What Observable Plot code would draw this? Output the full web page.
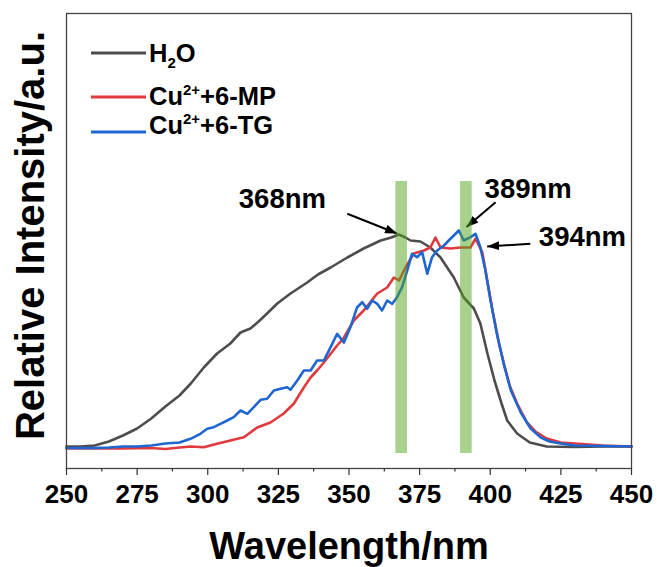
<!DOCTYPE html>
<html><head><meta charset="utf-8">
<script src="https://cdn.jsdelivr.net/npm/d3@7"></script>
<script src="https://cdn.jsdelivr.net/npm/@observablehq/plot@0.6"></script>
<style>
html,body{margin:0;padding:0;background:#fff;}
#wrap{position:relative;width:657px;height:567px;}
#wrap svg text{font-weight:bold;}
#legend{position:absolute;left:0;top:0;pointer-events:none;}
</style></head><body><div id="wrap"></div>
<script>
const FONT = "Liberation Sans, Arial, Helvetica, sans-serif";

// ---- data (relative intensity, a.u.) ----
const seriesNames = ["H2O", "Cu2+ +6-MP", "Cu2+ +6-TG"];
const seriesColors = ["#4d4d4d", "#e03a3e", "#1f66d1"];

const h2oX = [250,255,260,265,270,275,280,285,290,294,298.6,303.3,308,311.6,315.1,318,321,324.6,329.3,335.2,339,343.5,349.4,355.2,361.2,365,367.6,370,371.8,375.3,378.8,382.4,387.1,390.6,394.2,396.5,399,401.5,404,406,409.5,414,420,430,440,450];
const h2oY = [0,0,1,5,11,18,28,40,51,63,79,93,103,114,118,125,133,143,153,164,172,179,189,198,206,209,212,209,206,205,199,189,169,149,138,123,93,66,43,26,13,4,0,-0.5,0,0];

const mpX = [250,260,270,280,285,290,294,298.6,303.3,308,312.8,317.5,322.2,326.9,330.5,334,336.4,338.7,341.1,345.8,348,351.7,355.2,360,363.5,365.9,367.7,370,372.9,376.5,378.8,380.6,382.4,385.9,389.5,393,394.8,397.2,399,401,403,405,407,409.5,413,416,420,425,430,435,440,450];
const mpY = [-2,-2,-2,-1.5,-2.5,-1,0,-0.7,2.7,6,9.3,19,24,33,43,59,69,76,84,101,108,126,136,153,159,169,166,179,193,196,199,209,199,198,199,199,208,194,165,133,104,81,60,43,24,15,8,4,3,2,1,0];

const tgX = [250,260,265,270,275,280,285,290,293.9,297.4,299.8,302.1,304.5,306.9,309.2,311.6,314,316.3,318.7,321,323.4,325.8,328.1,329.3,331.7,334,336.4,338.7,341.1,343.5,345.8,348.2,350.5,352.9,354.7,356.4,358.2,360,361.7,363.5,365.3,367,368.8,370.6,372.3,374.1,375.9,377.7,379.4,381.2,383.6,385.3,387.1,388.9,390.6,393,394.8,396.5,398.3,400.1,402.5,404.9,407.3,410.8,414.3,417.9,421,425,430,440,450];
const tgY = [-1.5,-1.5,-1,0,0,1,3,4,7.7,12.7,17.7,19.3,22.7,26,29.3,36,32.7,39.3,46.7,47.7,56,57.7,59.3,56.7,66,76,76,86,86,99.3,112.7,104,119.3,139.3,144.3,137.7,146,142.7,136,146,142.7,149.3,159.3,176,192.7,189.3,194.3,172.7,189.3,196,201,206,211,216,206,209.3,212.7,199.3,176,146,111,81,56,34,18,9,5,3,1,0.5,0];

const majorTicks = [250,275,300,325,350,375,400,425,450];
const minorTicks = [262.5,287.5,312.5,337.5,362.5,387.5,412.5,437.5];

// highlighted bands (nm) and their vertical extent (a.u.)
const bandX1 = [366.6, 389.5];
const bandX2 = [370.7, 393.6];
const bandBottom = -7;
const bandTop = 265;

// peak annotations (data units)
const peakText = ["368nm", "389nm", "394nm"];
const peakTextX = [311, 398, 417.2];
const peakTextY = [239, 249, 201];
const arrowX1 = [349.4, 401.9, 414.2];
const arrowY1 = [232.7, 244.3, 202.7];
const arrowX2 = [367.0, 391.6, 398.9];
const arrowY2 = [213.0, 219.5, 200.0];

const xTitle = "Wavelength/nm";
const yTitle = "Relative Intensity/a.u.";

// ---- tables ----
const rows = [];
h2oX.forEach((x, i) => rows.push({s: seriesNames[0], x, y: h2oY[i]}));
mpX.forEach((x, i) => rows.push({s: seriesNames[1], x, y: mpY[i]}));
tgX.forEach((x, i) => rows.push({s: seriesNames[2], x, y: tgY[i]}));
const bands = bandX1.map((x1, i) => ({x1, x2: bandX2[i], y1: bandBottom, y2: bandTop}));
const labels = peakText.map((t, i) => ({t, x: peakTextX[i], y: peakTextY[i]}));
const arrows = arrowX1.map((x1, i) => ({x1, y1: arrowY1[i], x2: arrowX2[i], y2: arrowY2[i]}));

function filledArrow(color) {
  const ns = "http://www.w3.org/2000/svg";
  const m = document.createElementNS(ns, "marker");
  m.setAttribute("viewBox", "-12 -4.5 12 9");
  m.setAttribute("markerUnits", "userSpaceOnUse");
  m.setAttribute("markerWidth", "12");
  m.setAttribute("markerHeight", "9");
  m.setAttribute("refX", "0");
  m.setAttribute("refY", "0");
  m.setAttribute("orient", "auto");
  const p = document.createElementNS(ns, "path");
  p.setAttribute("d", "M-12,-4.5L0,0L-12,4.5Z");
  p.setAttribute("fill", color);
  p.setAttribute("stroke", "none");
  m.appendChild(p);
  return m;
}

function build(marker) {
  return Plot.plot({
    width: 657, height: 567,
    marginLeft: 66, marginRight: 26, marginTop: 13, marginBottom: 99,
    style: {fontFamily: FONT, background: "white", color: "#000"},
    x: {domain: [250, 450]},
    y: {domain: [-22, 433], axis: null},
    color: {domain: seriesNames, range: seriesColors},
    marks: [
      Plot.line(rows, {x: "x", y: "y", z: "s", stroke: "s", strokeWidth: 2.6, strokeLinejoin: "round"}),
      Plot.link(arrows, {x1: "x1", y1: "y1", x2: "x2", y2: "y2", stroke: "#000", strokeWidth: 2, markerEnd: marker}),
      Plot.rect(bands, {x1: "x1", x2: "x2", y1: "y1", y2: "y2", fill: "#53a31d", fillOpacity: 0.5}),
      Plot.text(labels, {x: "x", y: "y", text: "t", textAnchor: "start", lineAnchor: "bottom", fontSize: 27.5, fontWeight: "bold", fill: "#000"}),
      Plot.frame({stroke: "#444", strokeWidth: 1.3}),
      Plot.axisX({ticks: majorTicks, tickSize: 7, tickPadding: 9, fontSize: 26, fontWeight: "bold", label: null, stroke: "#333", strokeWidth: 1.2}),
      Plot.axisX({ticks: minorTicks, tickSize: 3.5, text: null, label: null, stroke: "#333", strokeWidth: 1.2}),
      Plot.text([xTitle], {text: d => d, frameAnchor: "bottom", dy: 90, textAnchor: "middle", lineAnchor: "bottom", fontSize: 38, fontWeight: "bold", fill: "#000"}),
      Plot.text([yTitle], {text: d => d, frameAnchor: "left", rotate: -90, dx: -23, dy: -5.5, textAnchor: "middle", lineAnchor: "bottom", fontSize: 40, fontWeight: "bold", fill: "#000"})
    ]
  });
}

let chart;
try { chart = build(filledArrow); } catch (e) { chart = build("arrow"); }
const wrap = document.getElementById("wrap");
wrap.appendChild(chart);

// ---- legend (top-left, inside the frame) ----
const legendRows = [
  {parts: [["H", 0, 25.5], ["2", 6, 15], ["O", 0, 25.5]]},
  {parts: [["Cu", 0, 25.5], ["2+", -10, 15], ["+6-MP", 0, 25.5]]},
  {parts: [["Cu", 0, 25.5], ["2+", -10, 15], ["+6-TG", 0, 25.5]]}
];
const legLineY = [53, 97, 132];
const legTextY = [61.6, 105.3, 133.6];
const leg = d3.select(wrap).append("svg").attr("id", "legend")
  .attr("width", 657).attr("height", 567)
  .style("font-family", FONT);
legendRows.forEach((r, i) => {
  leg.append("line").attr("x1", 91).attr("x2", 146)
    .attr("y1", legLineY[i]).attr("y2", legLineY[i])
    .attr("stroke", seriesColors[i]).attr("stroke-width", 3);
  const t = leg.append("text").attr("x", 149).attr("y", legTextY[i])
    .attr("fill", "#000").style("font-weight", "bold");
  let prevShift = 0;
  r.parts.forEach(([s, shift, size]) => {
    t.append("tspan").attr("dy", shift - prevShift).style("font-size", size + "px").text(s);
    prevShift = shift;
  });
});
</script></body></html>
